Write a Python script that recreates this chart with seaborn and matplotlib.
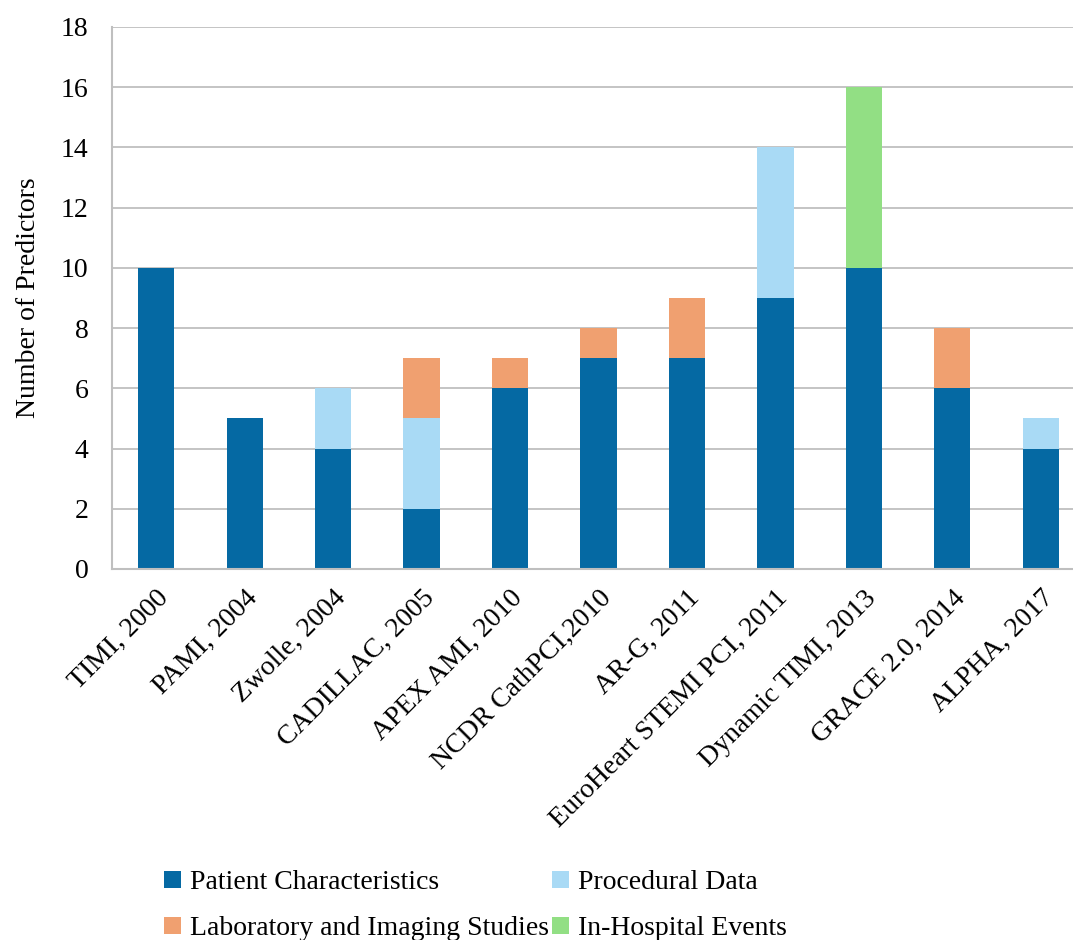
import numpy as np
import pandas as pd
import matplotlib
matplotlib.use("Agg")
import matplotlib.pyplot as plt
import seaborn as sns
from matplotlib.patches import Patch

studies = ["TIMI, 2000", "PAMI, 2004", "Zwolle, 2004", "CADILLAC, 2005",
           "APEX AMI, 2010", "NCDR CathPCI,2010", "AR-G, 2011",
           "EuroHeart STEMI PCI, 2011", "Dynamic TIMI, 2013",
           "GRACE 2.0, 2014", "ALPHA, 2017"]
patient = [10, 5, 4, 2, 6, 7, 7, 9, 10, 6, 4]
procedural = [0, 0, 2, 3, 0, 0, 0, 5, 0, 0, 1]
laboratory = [0, 0, 0, 2, 1, 1, 2, 0, 0, 2, 0]
in_hospital = [0, 0, 0, 0, 0, 0, 0, 0, 6, 0, 0]

series_names = ["Patient Characteristics", "Procedural Data",
                "Laboratory and Imaging Studies", "In-Hospital Events"]
colors = ["#0569A3", "#A9DAF5", "#F0A070", "#92DF84"]

sns.set_theme(style="white")
plt.rcParams["font.family"] = ["Liberation Serif", "DejaVu Serif"]
plt.rcParams["text.color"] = "black"
plt.rcParams["axes.labelcolor"] = "black"
plt.rcParams["xtick.color"] = "black"
plt.rcParams["ytick.color"] = "black"

FS = 20

fig = plt.figure(figsize=(10.73, 9.40), dpi=100)
ax = fig.add_axes([112 / 1073, 1 - 569 / 940, 973 / 1073, 542 / 940])

df = pd.DataFrame({"study": studies, "patient": patient, "procedural": procedural,
                   "laboratory": laboratory, "in_hospital": in_hospital})
bottom = np.zeros(len(studies))
for col, color in zip(["patient", "procedural", "laboratory", "in_hospital"], colors):
    sns.barplot(data=df, x="study", y=col, color=color, width=0.41,
                bottom=bottom, ax=ax, saturation=1, linewidth=0)
    bottom = bottom + df[col].to_numpy()

ax.set_ylim(0, 18)
ax.set_yticks(range(0, 19, 2))
ax.set_xlim(-0.5, len(studies) - 0.5)
ax.yaxis.grid(True, color="#BFBFBF", linewidth=1.3)
ax.set_axisbelow(True)
for side in ["top", "right"]:
    ax.spines[side].set_visible(False)
for side in ["left", "bottom"]:
    ax.spines[side].set_color("#BFBFBF")
    ax.spines[side].set_linewidth(1.5)

ax.set_xlabel("")
ax.set_ylabel("Number of Predictors", fontsize=FS, labelpad=14)
ax.tick_params(axis="y", labelsize=FS, length=0, pad=17)
ax.tick_params(axis="x", labelsize=FS, length=0, pad=12)
plt.setp(ax.get_xticklabels(), rotation=45, ha="right", rotation_mode="anchor")

# column-major fill: first column Patient/Laboratory, second Procedural/In-Hospital
order = [0, 2, 1, 3]
handles = [Patch(facecolor=colors[i], edgecolor="none") for i in order]
labels = [series_names[i] for i in order]
fig.legend(handles, labels, loc="lower left", bbox_to_anchor=(150 / 1073, -0.016),
           ncol=2, frameon=False, fontsize=FS, handlelength=0.6, handleheight=0.6,
           handletextpad=0.35, columnspacing=0.1, labelspacing=0.75, borderpad=0.0)

fig.savefig("out.png", dpi=100)
